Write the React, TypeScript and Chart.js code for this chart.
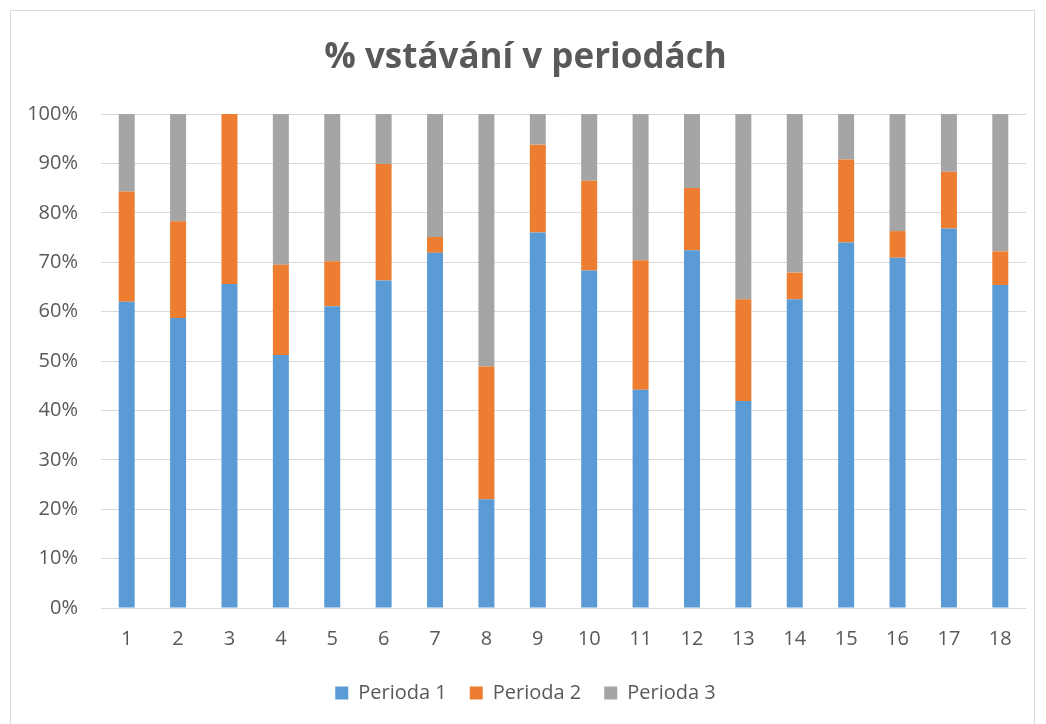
import React, { useEffect, useRef } from "react";
import { Chart, registerables } from "chart.js";

Chart.register(...registerables);

const categories = ["1", "2", "3", "4", "5", "6", "7", "8", "9", "10", "11", "12", "13", "14", "15", "16", "17", "18"];
const perioda1 = [62.0, 58.7, 65.6, 51.2, 61.1, 66.3, 71.9, 22.0, 76.0, 68.3, 44.2, 72.4, 41.9, 62.5, 74.0, 70.9, 76.8, 65.4];
const perioda2 = [22.3, 19.6, 34.4, 18.3, 9.1, 23.6, 3.2, 26.9, 17.8, 18.2, 26.2, 12.6, 20.6, 5.4, 16.8, 5.4, 11.5, 6.8];
const perioda3 = [15.7, 21.7, 0.0, 30.5, 29.8, 10.1, 24.9, 51.1, 6.2, 13.5, 29.6, 15.0, 37.5, 32.1, 9.2, 23.7, 11.7, 27.8];
const seriesNames = ["Perioda 1", "Perioda 2", "Perioda 3"];
const titleText = "% vstávání v periodách";

const TEXT = "#595959";
const FONT = "'Open Sans', 'Liberation Sans', sans-serif";

export default function App() {
  const ref = useRef<HTMLCanvasElement | null>(null);

  useEffect(() => {
    if (!ref.current) return;
    const chart = new Chart(ref.current, {
      type: "bar",
      data: {
        labels: categories,
        datasets: [
          { label: seriesNames[0], data: perioda1, backgroundColor: "#5B9BD5" },
          { label: seriesNames[1], data: perioda2, backgroundColor: "#ED7D31" },
          { label: seriesNames[2], data: perioda3, backgroundColor: "#A5A5A5" },
        ].map((d) => ({ ...d, barPercentage: 0.311, categoryPercentage: 1, borderWidth: 0 })),
      },
      options: {
        responsive: false,
        animation: false,
        layout: { padding: { left: 3, right: 20, top: 0, bottom: 11 } },
        plugins: {
          title: {
            display: true,
            text: titleText,
            color: TEXT,
            font: { family: FONT, size: 35, weight: "bold" },
            padding: { top: 37, bottom: 35 },
          },
          legend: {
            position: "bottom",
            labels: {
              color: TEXT,
              font: { family: FONT, size: 20 },
              boxWidth: 13,
              boxHeight: 13,
              padding: 23,
            },
          },
          tooltip: { enabled: false },
        },
        scales: {
          x: {
            stacked: true,
            grid: { display: false },
            border: { display: false },
            ticks: { color: TEXT, font: { family: FONT, size: 20 }, padding: 11, maxRotation: 0 },
            afterFit: (s: any) => { s.height = 52; },
          },
          y: {
            stacked: true,
            min: 0,
            max: 100,
            grid: { color: "#D9D9D9", lineWidth: 1, drawTicks: false },
            border: { display: false },
            ticks: {
              stepSize: 10,
              color: TEXT,
              font: { family: FONT, size: 20 },
              padding: 23,
              callback: (v: any) => v + "%",
            },
            afterFit: (s: any) => { s.width = 76; },
          },
        },
      },
    });
    return () => chart.destroy();
  }, []);

  return (
    <div style={{ position: "fixed", left: 0, top: 0, width: 1046, height: 724, overflow: "hidden", background: "#fff" }}>
      <div style={{ position: "absolute", left: 10, top: 10, width: 1025, height: 730, border: "1px solid #D9D9D9", boxSizing: "border-box" }} />
      <canvas ref={ref} width={1024} height={724} style={{ position: "absolute", left: 22, top: 0 }} />
    </div>
  );
}
